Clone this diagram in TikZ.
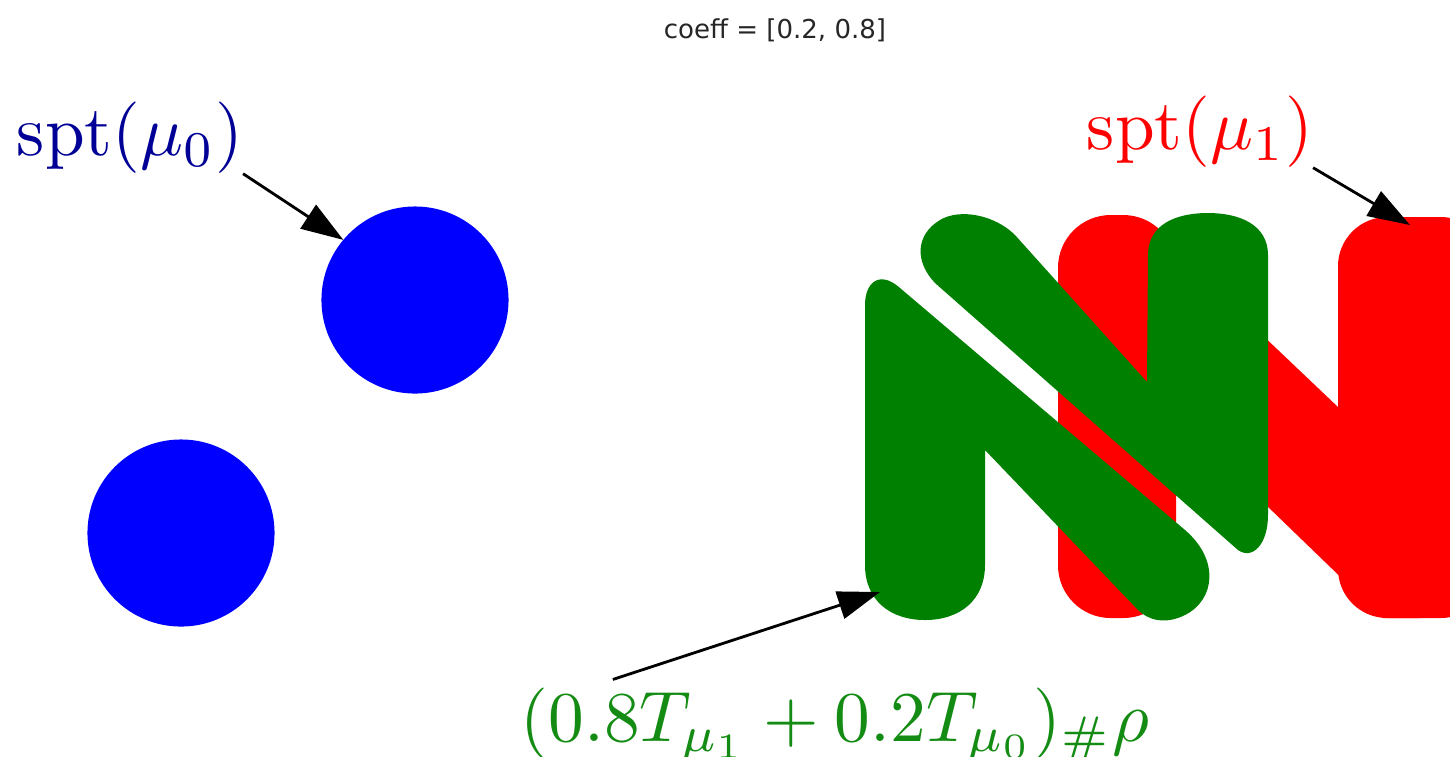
\documentclass[tikz,border=0pt]{standalone}
\usepackage{fontspec}
\newfontfamily\plotfont{DejaVu Sans}
\usetikzlibrary{calc,arrows.meta}
\definecolor{mplgreen}{RGB}{0,128,0}
\definecolor{labblue}{RGB}{0,0,150}
\definecolor{labgreen}{RGB}{20,140,20}

\begin{document}
\begin{tikzpicture}[x=0.01cm,y=-0.01cm,every node/.style={outer sep=0pt,inner sep=0pt}]

	\tikzstyle{disk}=[circle,fill=blue,draw=none,minimum size=1.87cm]
	\tikzstyle{lbl}=[scale=2.03]
	\tikzstyle{pointer}=[line width=0.8pt,-{Triangle[length=12pt,width=8pt]}]

	\useasboundingbox (0,0) rectangle (1450,756);

	\node (title) at (775,30) [text=black!85] {\plotfont\fontsize{7.4}{9}\selectfont coeff = [0.2, 0.8]};

	% source measure
	\node (disk0) at (415,300) [disk] {};
	\node (disk1) at (181,533) [disk] {};

	% target N
	\fill [red, rounded corners=15pt] (1058,215) rectangle (1176,618);
	\fill [red, rounded corners=14pt] (1338,217) rectangle (1490,618);
	\fill [red] (1117,260) -- (1176,253) -- (1338,407) -- (1420,618) -- (1383,618) -- (1176,418) -- (1117,400) -- cycle;

	% interpolated N
	\fill [mplgreen] (865,305) .. controls (865,282) and (880,270) .. (900,288) -- (1185,530)
		.. controls (1220,560) and (1215,600) .. (1185,615) .. controls (1165,625) and (1148,620) .. (1138,610)
		-- (985,450) -- (985,565) .. controls (985,600) and (960,620) .. (925,620)
		.. controls (890,620) and (865,600) .. (865,565) -- cycle;
	\fill [mplgreen] (935,283) .. controls (915,262) and (915,235) .. (940,220) .. controls (960,208) and (995,215) .. (1015,235)
		-- (1147,382) -- (1148,255) .. controls (1148,225) and (1175,213) .. (1208,213)
		.. controls (1240,213) and (1268,225) .. (1268,255) -- (1268,515)
		.. controls (1268,545) and (1252,560) .. (1238,550) -- cycle;
%	\draw [thin] (1058,215) rectangle (1176,618);

	\coordinate (tipR) at (1410,225);
	\coordinate (tipG) at (880,592);

	\node (lab0) at (130,138) [lbl, text=labblue] {$\mathrm{spt}(\mu_0)$};
	\node (lab1) at (1200,132) [lbl, text=red] {$\mathrm{spt}(\mu_1)$};
	\node (lab2) at (835,741) [lbl, anchor=base, text=labgreen] {$(0.8T_{\mu_1}+0.2T_{\mu_0})_{\#}\rho$};

	\draw [pointer] (lab0.south east) -- (disk0.140);
	\draw [pointer] (lab1.south east) -- (tipR);
	\draw [pointer] ($(lab2.north west)+(92,-8)$) -- (tipG);

\end{tikzpicture}
\end{document}
